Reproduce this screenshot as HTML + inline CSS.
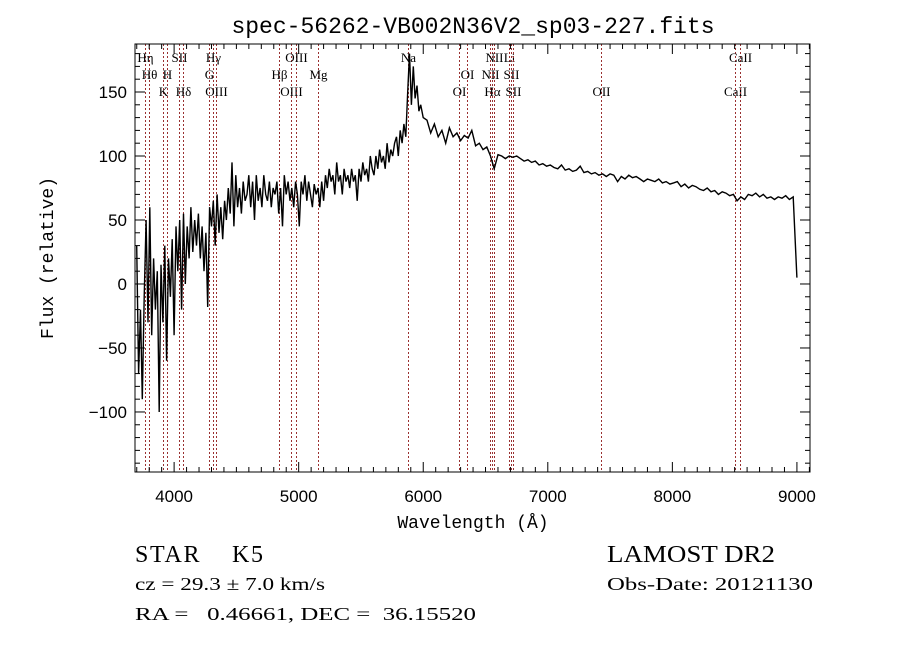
<!DOCTYPE html>
<html><head><meta charset="utf-8"><style>
html,body{margin:0;padding:0;background:#fff;width:900px;height:649px;overflow:hidden}
svg{display:block}
text{white-space:pre}
</style></head><body>
<svg id="chart" width="900" height="649" viewBox="0 0 900 649" xmlns="http://www.w3.org/2000/svg">
<rect x="0" y="0" width="900" height="649" fill="#fff"/>
<text x="473" y="33" text-anchor="middle" font-family="Liberation Mono, monospace" font-size="23">spec-56262-VB002N36V2_sp03-227.fits</text>
<g id="lines"></g>
<g id="spec"></g>
<g id="axes"></g>
<text x="473" y="528" text-anchor="middle" font-family="Liberation Mono, monospace" font-size="18">Wavelength (Å)</text>
<text transform="translate(53,258) rotate(-90)" text-anchor="middle" font-family="Liberation Mono, monospace" font-size="18">Flux (relative)</text>
<text x="135" y="562" font-family="Liberation Serif, serif" font-size="24" textLength="128" lengthAdjust="spacing">STAR    K5</text>
<text x="607" y="562" font-family="Liberation Serif, serif" font-size="24" textLength="168" lengthAdjust="spacingAndGlyphs">LAMOST DR2</text>
<text x="135" y="590" font-family="Liberation Serif, serif" font-size="18" textLength="190" lengthAdjust="spacingAndGlyphs">cz = 29.3 ± 7.0 km/s</text>
<text x="607" y="590" font-family="Liberation Serif, serif" font-size="18" textLength="206" lengthAdjust="spacingAndGlyphs">Obs-Date: 20121130</text>
<text x="135" y="620" font-family="Liberation Serif, serif" font-size="18" textLength="341" lengthAdjust="spacingAndGlyphs">RA =   0.46661, DEC =  36.15520</text>
</svg>
<script>
const blueStart = 3700, blueStep = 15;
const blueFlux = [30,-70,-20,-90,-10,50,-30,60,-40,20,-20,10,-100,15,-30,30,-60,20,-10,35,-40,45,10,50,-20,55,0,45,20,60,25,50,30,55,20,45,10,40,-18,60,45,65,30,70,40,60,35,65,50,75,55,95,45,85,60,75,55,80,65,70,85,60,80,50,85,65,75,60,85,70,65,80,60,75,70,80,55,75,45,85,70,80,65,75,60,80,70,45,80,70,85,65,80,70,60,78,70,75,60,80,65,85,75,90,80,85,70,95,80,85,70,90,80,85,75,90,80,85,65,90,80,95,85,90,80,100,90,85,100,90,105,95,100,90,110,95,105,100,110,115,100,120,110,125,115,150,180,140,170,145,155,135,140];
const redStart = 6000, redStep = 30;
const redFlux = [130,128,118,125,115,120,110,122,115,118,112,116,114,120,108,110,105,107,100,90,101,100,98,100,99,100,98,96,97,95,96,93,94,92,93,91,90,93,89,90,88,89,92,87,88,86,87,85,86,84,86,85,80,84,82,85,83,84,82,80,82,81,80,82,79,80,78,79,80,76,78,75,77,76,74,73,75,72,73,70,72,71,69,70,65,68,66,70,69,71,68,70,67,68,66,68,67,69,66,68,5];
const lineWaves = [3767,3799,3911,3944,4040,4072,4282,4314,4338,4845,4942,4982,5159,5876,6287,6351,6536,6552,6568,6689,6705,6721,7430,8501,8541];
const lineLabels = ["Hη","Hθ","K","H","SII","Hδ","G","Hγ","OIII","Hβ","OIII","OIII","Mg","Na","OI","OI","NII","Hα","NII","Li","SII","SII","OII","CaII","CaII"];
const lineRows = [1,2,3,2,1,3,2,1,3,2,3,1,2,1,3,2,2,3,1,1,2,3,3,3,1];
const xTicks = [4000,5000,6000,7000,8000,9000];
const yTicks = [-100,-50,0,50,100,150];

const L=135,R=810,T=44,B=472;
const xMin=3686,xMax=9105,yMin=-146.9,yMax=187.5;
const xs=w=>L+(w-xMin)/(xMax-xMin)*(R-L);
const ys=f=>B-(f-yMin)/(yMax-yMin)*(B-T);
const NS="http://www.w3.org/2000/svg";
function mk(tag,parent,attrs){const e=document.createElementNS(NS,tag);for(const k in attrs)e.setAttribute(k,attrs[k]);parent.appendChild(e);return e;}

const gl=document.getElementById('lines');
const rowY=[0,62,79,96];
lineWaves.forEach((w,i)=>{
  const x=Math.round(xs(w))+0.5;
  const ln=mk('line',gl,{x1:x,x2:x,y1:T,y2:B,stroke:'#9a3030','stroke-width':1,'stroke-dasharray':'2,2','shape-rendering':'crispEdges'});
  
  
  const t=mk('text',gl,{x:x,y:rowY[lineRows[i]],'text-anchor':'middle','font-family':'Liberation Serif, serif','font-size':13});
  t.textContent=lineLabels[i];
  
  
});

const gs=document.getElementById('spec');
let pts=[];
blueFlux.forEach((f,i)=>pts.push(xs(blueStart+i*blueStep).toFixed(1)+','+ys(f).toFixed(1)));
redFlux.forEach((f,i)=>pts.push(xs(redStart+i*redStep).toFixed(1)+','+ys(f).toFixed(1)));
const pl=mk('polyline',gs,{points:pts.join(' '),fill:'none',stroke:'#000','stroke-width':1.4});



const ga=document.getElementById('axes');
const fr=mk('rect',ga,{x:L,y:T,width:R-L,height:B-T,fill:'none',stroke:'#000','stroke-width':1});


for(let w=3700;w<=xMax;w+=100){
  const x=xs(w),len=(w%1000===0)?10:5;
  mk('line',ga,{x1:x,x2:x,y1:B,y2:B-len,stroke:'#000'});
  mk('line',ga,{x1:x,x2:x,y1:T,y2:T+len,stroke:'#000'});
}
for(let f=-140;f<=180;f+=10){
  const y=ys(f),len=(f%50===0)?10:5;
  mk('line',ga,{x1:L,x2:L+len,y1:y,y2:y,stroke:'#000'});
  mk('line',ga,{x1:R,x2:R-len,y1:y,y2:y,stroke:'#000'});
}
xTicks.forEach(v=>{
  const t=mk('text',ga,{x:xs(v),y:B+30,'text-anchor':'middle','font-family':'Liberation Sans, sans-serif','font-size':17});
  t.textContent=v;
  
  
});
yTicks.forEach(v=>{
  const t=mk('text',ga,{x:L-8,y:ys(v)+6,'text-anchor':'end','font-family':'Liberation Sans, sans-serif','font-size':17});
  t.textContent=v<0?'\u2212'+(-v):v;
  
  
});
</script>
</body></html>
